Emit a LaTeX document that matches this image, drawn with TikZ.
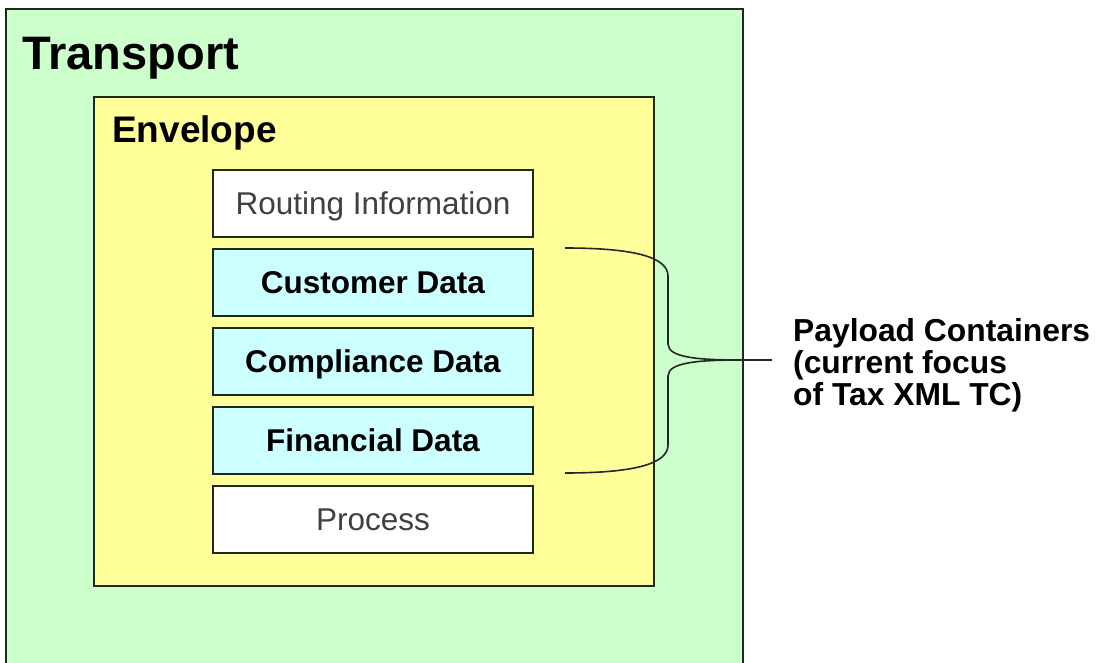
\documentclass[tikz,border=0pt]{standalone}
\usepackage{fontspec}
\setmainfont{Liberation Sans}
\usepackage{tikz}
\usetikzlibrary{positioning,calc}

\definecolor{transgreen}{HTML}{CCFFCC}
\definecolor{envyellow}{HTML}{FFFF99}
\definecolor{datacyan}{HTML}{CCFFFF}
\definecolor{edgedark}{HTML}{1E281E}

\begin{document}
\begin{tikzpicture}[x=1pt, y=-1pt,
  layer/.style={draw=edgedark, line width=2pt, anchor=north west, inner sep=0pt},
  part/.style={draw=edgedark, line width=2pt, minimum width=320pt, minimum height=67pt,
    inner sep=0pt, text height=22.6pt, text depth=0pt},
  datapart/.style={part, fill=datacyan, font=\fontsize{31.5}{36}\selectfont\bfseries},
  plainpart/.style={part, fill=white, text=black!75, font=\fontsize{31.5}{36}\selectfont},
  brace/.style={draw=black!85, line width=1.6pt}]
  \clip (0,0) rectangle (1095,663);
  % nested layers
  \node[layer, fill=transgreen, minimum width=737pt, minimum height=690pt] (transport) at (5,8) {};
  \node[layer, fill=envyellow, minimum width=560pt, minimum height=489pt] (envelope) at (93,96) {};
  \node[anchor=base west, inner sep=0pt, font=\fontsize{47}{56}\selectfont\bfseries] (transporttitle) at (22,70) {Transport};
  \node[anchor=base west, inner sep=0pt, font=\fontsize{37}{44}\selectfont\bfseries] (envelopetitle) at (112,143) {Envelope};
  % stack of parts inside the envelope
  \node[plainpart, anchor=north] (routing) at (373,169) {Routing Information};
  \node[datapart, below=10pt of routing] (customer) {Customer Data};
  \node[datapart, below=10pt of customer] (compliance) {Compliance Data};
  \node[datapart, below=10pt of compliance] (financial) {Financial Data};
  \node[plainpart, below=10pt of financial] (process) {Process};
  % brace round the payload parts
  \node[anchor=north west, align=left, inner xsep=21pt, inner ysep=0pt,
    font=\fontsize{31.8}{32}\selectfont\bfseries] (note) at (772,318)
    {Payload Containers\\(current focus\\of Tax XML TC)};
  \coordinate (bracetop) at (565,248);
  \coordinate (bracebot) at (565,473);
  \coordinate (bracetip) at (742,360);
  \draw[brace] (bracetop) .. controls (630,248) and (668,256) .. (668,276)
    -- (668,344) .. controls (668,358) and (700,360) .. (bracetip)
    .. controls (700,360) and (668,362) .. (668,376)
    -- (668,445) .. controls (668,465) and (630,473) .. (bracebot);
  \draw[brace] (bracetip) -- (bracetip -| note.west);
\end{tikzpicture}
\end{document}
